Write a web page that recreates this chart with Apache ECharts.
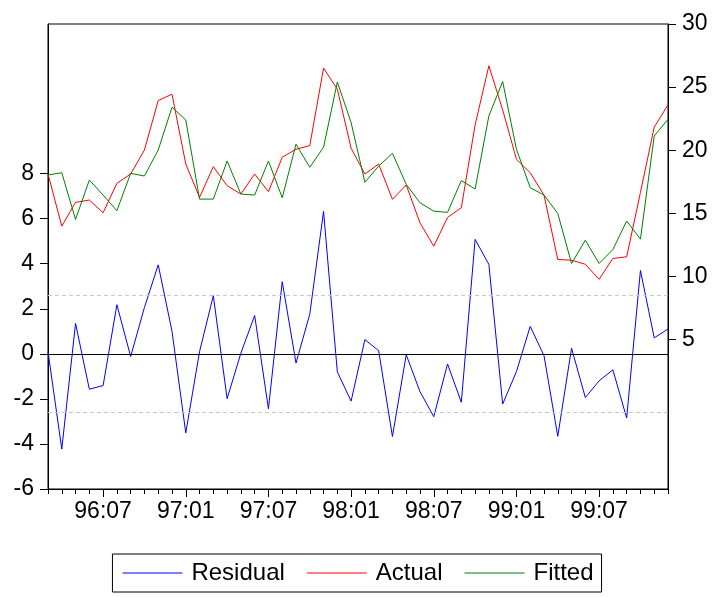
<!DOCTYPE html>
<html>
<head>
<meta charset="utf-8">
<script src="https://cdn.jsdelivr.net/npm/echarts@6/dist/echarts.min.js"></script>
<style>html,body{margin:0;padding:0;background:#fff;}#c{width:716px;height:597px;}</style>
</head>
<body>
<div id="c"></div>
<script>
var categories = ['96:03','96:04','96:05','96:06','96:07','96:08','96:09','96:10','96:11','96:12',
'97:01','97:02','97:03','97:04','97:05','97:06','97:07','97:08','97:09','97:10','97:11','97:12',
'98:01','98:02','98:03','98:04','98:05','98:06','98:07','98:08','98:09','98:10','98:11','98:12',
'99:01','99:02','99:03','99:04','99:05','99:06','99:07','99:08','99:09','99:10','99:11','99:12'];
var xTickLabels = ['96:07','97:01','97:07','98:01','98:07','99:01','99:07'];
var residual = [0.1,-4.23,1.35,-1.57,-1.41,2.18,-0.12,2.06,3.95,1.0,
-3.51,0.1,2.58,-1.99,0.03,1.7,-2.44,3.2,-0.41,1.76,6.32,-0.8,
-2.1,0.63,0.14,-3.67,-0.04,-1.68,-2.79,-0.45,-2.15,5.08,3.97,-2.23,
-0.79,1.22,-0.08,-3.66,0.25,-1.94,-1.2,-0.71,-2.85,3.7,0.71,1.1];
var actual = [18.12,13.99,15.87,16.06,15.05,17.38,18.12,20.02,23.94,24.44,
18.91,16.27,18.7,17.19,16.53,18.12,16.72,19.44,20.08,20.37,26.51,24.84,
20.16,18.12,18.91,16.11,17.25,14.25,12.4,14.68,15.45,22.01,26.69,23.2,
19.29,18.22,16.45,11.35,11.29,10.97,9.78,11.43,11.56,16.66,21.83,23.6];
var fitted = [18.04,18.22,14.52,17.64,16.45,15.21,18.17,17.96,20.02,23.41,
22.4,16.13,16.13,19.15,16.53,16.45,19.15,16.24,20.48,18.65,20.24,25.4,
22.19,17.46,18.75,19.76,17.3,15.84,15.18,15.08,17.6,16.93,22.72,25.44,
20.08,17.03,16.45,15.0,11.03,12.88,11.03,12.14,14.39,12.96,21.13,22.46];
var leftTicks = [-6,-4,-2,0,2,4,6,8];
var rightTicks = [5,10,15,20,25,30];
var residualBand = [2.58,-2.58];

var FONT = '"Liberation Sans", Arial, sans-serif';
var chart = echarts.init(document.getElementById('c'), null, {renderer:'canvas'});
function isLabelIdx(i){ return xTickLabels.indexOf(categories[i]) >= 0; }

var option = {
  backgroundColor:'#fff',
  animation:false,
  grid:{left:48,right:48,top:24,bottom:108,show:true,borderColor:'#000',borderWidth:1,backgroundColor:'transparent'},
  legend:{
    left:'center', top:554, itemWidth:60, itemHeight:1, itemGap:22, icon:'rect',
    borderColor:'#000', borderWidth:1, padding:[7,8,7,10],
    textStyle:{fontSize:24,fontFamily:FONT,color:'#000',padding:[0,0,0,4]},
    data:['Residual','Actual','Fitted']
  },
  xAxis:[{
    type:'category', data:categories, boundaryGap:false,
    axisLine:{onZero:false,lineStyle:{color:'#000',width:1}},
    axisTick:{show:true,interval:0,length:5,lineStyle:{color:'#000'}},
    axisLabel:{show:false},
    splitLine:{show:false}
  },{
    type:'category', data:categories, boundaryGap:false, position:'bottom',
    axisLine:{show:false,onZero:false},
    axisTick:{show:true,interval:function(i){return isLabelIdx(i);},length:8,lineStyle:{color:'#000'}},
    axisLabel:{show:true,interval:function(i){return isLabelIdx(i);},fontSize:23,fontFamily:FONT,color:'#000',margin:11},
    splitLine:{show:false}
  }],
  yAxis:[{
    type:'value', position:'left', min:-6, max:14.64,
    axisLine:{show:true,onZero:false,lineStyle:{color:'#000'}},
    axisTick:{show:true,length:8,customValues:leftTicks,lineStyle:{color:'#000'}},
    axisLabel:{show:true,customValues:leftTicks,fontSize:23,fontFamily:FONT,color:'#000',margin:14},
    splitLine:{show:false}
  },{
    type:'value', position:'right', min:-6.83, max:30,
    axisLine:{show:true,onZero:false,lineStyle:{color:'#000'}},
    axisTick:{show:true,length:8,customValues:rightTicks,lineStyle:{color:'#000'}},
    axisLabel:{show:true,customValues:rightTicks,fontSize:23,fontFamily:FONT,color:'#000',margin:14},
    splitLine:{show:false}
  }],
  series:[{
    name:'Residual', type:'line', xAxisIndex:0, yAxisIndex:0, data:residual,
    symbol:'none', lineStyle:{color:'#0000FF',width:1}, itemStyle:{color:'#0000FF'},
    markLine:{
      silent:true, symbol:'none', label:{show:false}, animation:false,
      data:[
        {yAxis:0, lineStyle:{color:'#000',width:1,type:'solid'}},
        {yAxis:residualBand[0], lineStyle:{color:'#c8c8c8',width:1,type:[4,3]}},
        {yAxis:residualBand[1], lineStyle:{color:'#c8c8c8',width:1,type:[4,3]}}
      ]
    },
    z:3
  },{
    name:'Actual', type:'line', xAxisIndex:0, yAxisIndex:1, data:actual,
    symbol:'none', lineStyle:{color:'#FF0000',width:1}, itemStyle:{color:'#FF0000'}, z:3
  },{
    name:'Fitted', type:'line', xAxisIndex:0, yAxisIndex:1, data:fitted,
    symbol:'none', lineStyle:{color:'#008000',width:1}, itemStyle:{color:'#008000'}, z:3
  }]
};
chart.setOption(option);
</script>
</body>
</html>
